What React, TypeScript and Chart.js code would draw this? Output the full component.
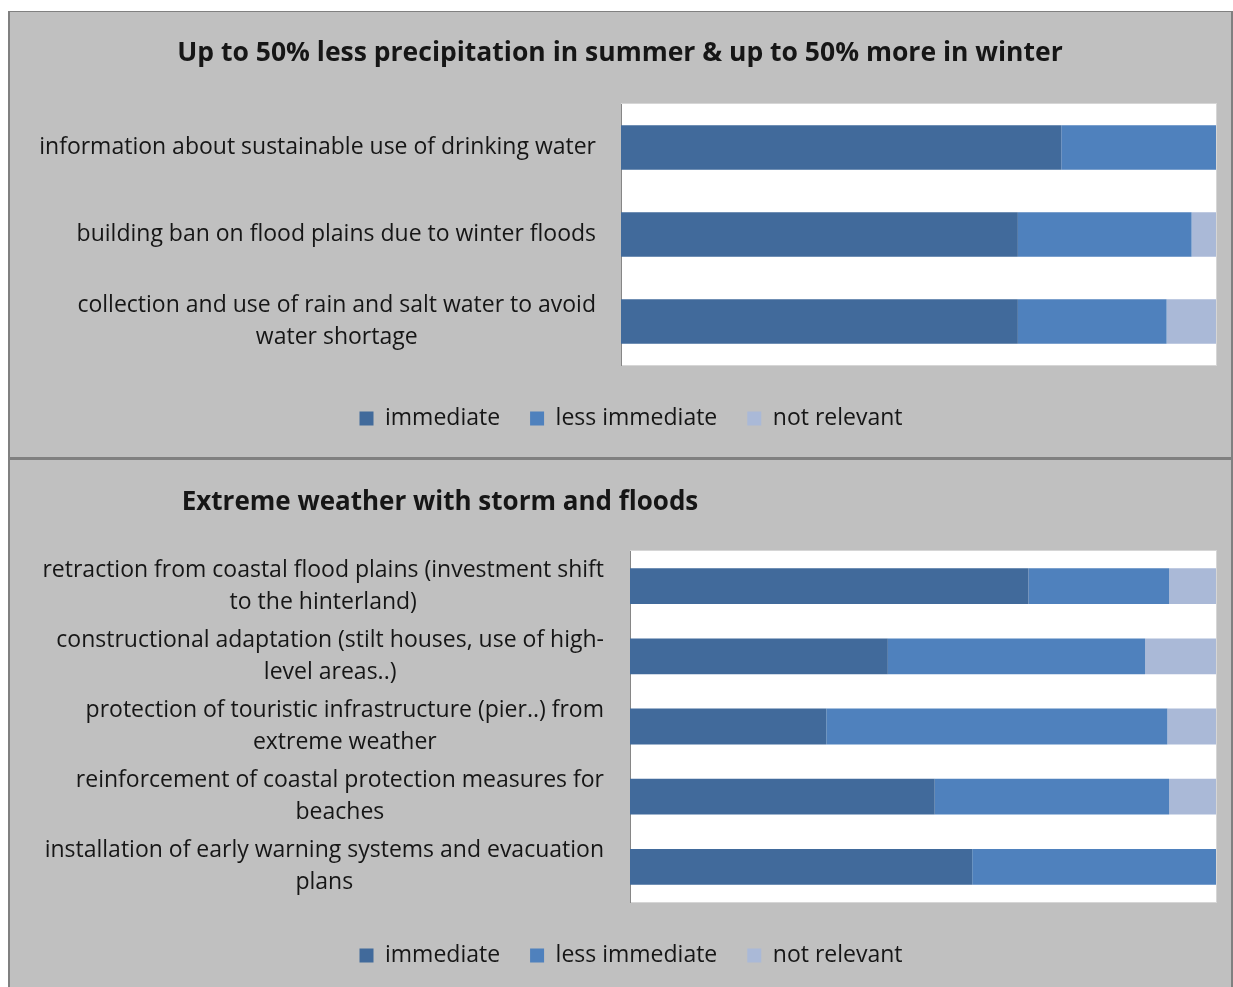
import React, { useEffect, useRef } from "react";
import { Chart, registerables } from "chart.js";

Chart.register(...registerables);

// ---------- data ----------
const seriesNames = ["immediate", "less immediate", "not relevant"];

const title1 = "Up to 50% less precipitation in summer & up to 50% more in winter";
const categories1 = [
  ["information about sustainable use of drinking water"],
  ["building ban on flood plains due to winter floods"],
  ["collection and use of rain and salt water to avoid", "water shortage"],
];
const immediate1 = [74, 66.7, 66.7];
const lessImmediate1 = [26, 29.2, 25];
const notRelevant1 = [0, 4.1, 8.3];

const title2 = "Extreme weather with storm and floods";
const categories2 = [
  ["retraction from coastal flood plains (investment shift", "to the hinterland)"],
  ["constructional adaptation (stilt houses, use of high-", "level areas..)"],
  ["protection of touristic infrastructure (pier..) from", "extreme weather"],
  ["reinforcement of coastal protection measures for", "beaches"],
  ["installation of early warning systems and evacuation", "plans"],
];
const immediate2 = [68, 44, 33.5, 52, 58.4];
const lessImmediate2 = [24, 43.9, 58.2, 40, 41.6];
const notRelevant2 = [8, 12.1, 8.3, 8, 0];

// ---------- styles ----------
const seriesColors = ["#416A9B", "#4F81BD", "#AAB9D7"];
const FONT = "'Open Sans', Lato, sans-serif";
const BG = "#C0C0C0";
const BORDER = "#808080";
const TEXT = "#161616";

const decoPlugin = {
  id: "panelDeco",
  beforeDraw(chart: any, _args: any, opts: any) {
    const { ctx, chartArea: a, width, height } = chart;
    ctx.save();
    ctx.fillStyle = BG;
    ctx.fillRect(0, 0, width, height);
    ctx.fillStyle = "#FFFFFF";
    ctx.fillRect(a.left, a.top, a.right - a.left, a.bottom - a.top);
    ctx.strokeStyle = "#D6D6D6";
    ctx.lineWidth = 1;
    ctx.strokeRect(a.left + 0.5, a.top - 0.5, a.right - a.left, a.bottom - a.top + 1);
    ctx.restore();
  },
  afterDraw(chart: any, _args: any, opts: any) {
    const { ctx } = chart;
    ctx.save();
    // title
    ctx.fillStyle = TEXT;
    ctx.font = `bold ${opts.titleSize}px ${FONT}`;
    ctx.textAlign = "center";
    ctx.textBaseline = "middle";
    ctx.fillText(opts.title, opts.titleX, opts.titleY);
    // category labels: right-aligned blocks, lines centered inside block
    const yScale = chart.scales.y;
    ctx.font = `${opts.labelSize}px ${FONT}`;
    const labels = chart.data.labels as string[][];
    labels.forEach((lines, i) => {
      const py = yScale.getPixelForValue(i);
      const blockW = Math.max(...lines.map((l) => ctx.measureText(l).width));
      const cx = opts.labelRight - blockW / 2;
      lines.forEach((line, j) => {
        const y = py + (j - (lines.length - 1) / 2) * opts.lineHeight;
        ctx.fillText(line, cx, y);
      });
    });
    ctx.restore();
  },
};

type PanelProps = {
  title: string;
  titleX: number;
  titleY: number;
  titleSize: number;
  categories: string[][];
  values: number[][];
  width: number;
  height: number;
  plotLeft: number;
  plotRight: number;
  plotTop: number;
  padLeft: number;
  padBottom: number;
  labelRight: number;
};

function Panel(p: PanelProps) {
  const ref = useRef<HTMLCanvasElement>(null);
  useEffect(() => {
    if (!ref.current) return;
    const chart = new Chart(ref.current, {
      type: "bar",
      data: {
        labels: p.categories as any,
        datasets: seriesNames.map((name, k) => ({
          label: name,
          data: p.values[k],
          backgroundColor: seriesColors[k],
          borderWidth: 0,
          categoryPercentage: 1,
          barPercentage: 0.51,
        })),
      },
      options: {
        indexAxis: "y",
        animation: false,
        responsive: false,
        devicePixelRatio: 1,
        layout: {
          padding: {
            left: p.padLeft,
            right: p.width - p.plotRight,
            top: p.plotTop,
            bottom: p.padBottom,
          },
        },
        scales: {
          x: {
            stacked: true,
            min: 0,
            max: 100,
            display: true,
            grid: { display: false },
            border: { display: false },
            ticks: { display: false },
            afterFit: (s: any) => {
              s.height = 12;
            },
          },
          y: {
            stacked: true,
            grid: { display: false },
            border: { display: true, color: "#868686", width: 1 },
            ticks: { display: false },
            afterFit: (s: any) => {
              s.width = p.plotLeft - p.padLeft;
            },
          },
        },
        plugins: {
          title: { display: false },
          tooltip: { enabled: false },
          legend: {
            display: true,
            position: "bottom",
            labels: {
              boxWidth: 14,
              boxHeight: 14,
              padding: 30,
              color: TEXT,
              font: { family: FONT, size: 23 },
            },
          },
          panelDeco: {
            title: p.title,
            titleX: p.titleX,
            titleY: p.titleY,
            titleSize: p.titleSize,
            labelSize: 23,
            lineHeight: 32,
            labelRight: p.labelRight,
          },
        } as any,
      },
      plugins: [decoPlugin],
    });
    return () => chart.destroy();
  }, []);
  return <canvas ref={ref} width={p.width} height={p.height} style={{ display: "block" }} />;
}

export default function App() {
  return (
    <div>
      <div
        style={{
          position: "fixed",
          left: 8,
          top: 11,
          width: 1221,
          height: 445,
          borderLeft: `2px solid ${BORDER}`,
          borderRight: `2px solid ${BORDER}`,
          borderTop: `1px solid ${BORDER}`,
          borderBottom: `3px solid ${BORDER}`,
          background: BG,
        }}
      >
        <Panel
          title={title1}
          titleX={610}
          titleY={41}
          titleSize={26.5}
          categories={categories1}
          values={[immediate1, lessImmediate1, notRelevant1]}
          width={1221}
          height={445}
          plotLeft={611}
          plotRight={1206}
          plotTop={92}
          padLeft={36}
          padBottom={17}
          labelRight={586}
        />
      </div>
      <div
        style={{
          position: "fixed",
          left: 8,
          top: 460,
          width: 1221,
          height: 527,
          borderLeft: `2px solid ${BORDER}`,
          borderRight: `2px solid ${BORDER}`,
          background: BG,
        }}
      >
        <Panel
          title={title2}
          titleX={430}
          titleY={43}
          titleSize={26}
          categories={categories2}
          values={[immediate2, lessImmediate2, notRelevant2]}
          width={1221}
          height={527}
          plotLeft={620}
          plotRight={1206}
          plotTop={91}
          padLeft={36}
          padBottom={10}
          labelRight={594}
        />
      </div>
    </div>
  );
}
